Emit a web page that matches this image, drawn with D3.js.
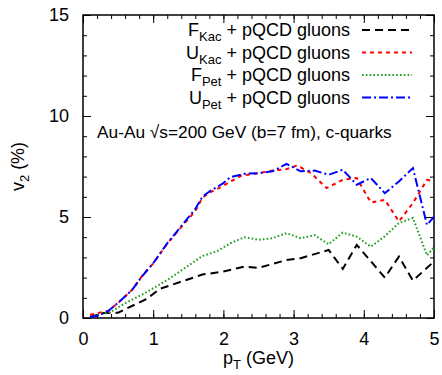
<!DOCTYPE html>
<html>
<head>
<meta charset="utf-8">
<script src="https://cdn.jsdelivr.net/npm/d3@7"></script>
<style>
    body { margin: 0; background: #fff; }
    text { font-family: "Liberation Sans", Arial, sans-serif; fill: #000; }
</style>
</head>
<body>
<script>
//wrap everything in a self-executing anonymous function
(function(){

    //pseudo-global data arrays
    var ptFKac = [0.1, 0.3, 0.5, 0.6, 0.9, 1.1, 1.4, 1.7, 2.0, 2.3, 2.5, 2.9, 3.1, 3.5, 3.7, 3.9, 4.3, 4.5, 4.7, 5.0];
    var v2FKac = [0.05, 0.25, 0.26, 0.43, 0.93, 1.45, 1.8, 2.15, 2.3, 2.55, 2.48, 2.87, 2.96, 3.37, 2.43, 3.62, 2.0, 3.04, 1.85, 2.8];

    var ptUKac = [0.1, 0.26, 0.36, 0.5, 0.7, 0.85, 1.0, 1.2, 1.4, 1.6, 1.7, 1.8, 2.0, 2.1, 2.25, 2.5, 2.7, 2.9, 3.05, 3.25, 3.47, 3.7, 3.9, 4.1, 4.3, 4.5, 4.7, 4.9, 5.0];
    var v2UKac = [0.15, 0.28, 0.35, 0.75, 1.4, 2.12, 2.7, 3.68, 4.5, 5.3, 5.95, 6.2, 6.55, 6.75, 7.04, 7.17, 7.3, 7.37, 7.55, 7.17, 6.43, 6.84, 6.93, 5.72, 5.85, 4.78, 5.69, 6.84, 6.76];

    var ptFPet = [0.1, 0.4, 0.6, 0.9, 1.2, 1.4, 1.7, 1.9, 2.1, 2.3, 2.5, 2.7, 2.9, 3.1, 3.3, 3.5, 3.7, 3.9, 4.1, 4.3, 4.5, 4.7, 4.9, 5.0];
    var v2FPet = [0.05, 0.31, 0.73, 1.27, 1.88, 2.35, 3.07, 3.29, 3.7, 4.0, 3.87, 3.95, 4.2, 3.95, 4.1, 3.65, 4.23, 4.03, 3.53, 4.05, 4.7, 4.95, 3.1, 3.5];

    var ptUPet = [0.1, 0.2, 0.36, 0.5, 0.7, 0.85, 1.0, 1.2, 1.4, 1.6, 1.7, 1.8, 2.0, 2.1, 2.3, 2.5, 2.7, 2.9, 3.1, 3.3, 3.5, 3.7, 3.9, 4.1, 4.3, 4.5, 4.7, 4.9, 5.0];
    var v2UPet = [0.05, 0.1, 0.35, 0.75, 1.39, 2.1, 2.71, 3.7, 4.55, 5.4, 6.0, 6.26, 6.68, 6.97, 7.14, 7.17, 7.26, 7.63, 7.26, 7.3, 7.09, 7.34, 6.6, 6.93, 6.18, 6.76, 7.42, 4.61, 5.02];

    var seriesNames = ["F", "U", "F", "U"];
    var seriesSubs = ["Kac", "Kac", "Pet", "Pet"];
    var xTicks = [0, 1, 2, 3, 4, 5];
    var yTicks = [0, 5, 10, 15];

    //begin script when window loads
    window.onload = setChart();

    function setChart(){
        //frame dimensions
        var width = 442,
            height = 375,
            left = 83,
            right = 434,
            top = 15,
            bottom = 318;

        var svg = d3.select("body")
            .append("svg")
            .attr("width", width)
            .attr("height", height);

        //scales
        var x = d3.scaleLinear().domain([0, 5]).range([left, right]);
        var y = d3.scaleLinear().domain([0, 15]).range([bottom, top]);

        //series styles (gnuplot-like)
        var series = [
            {pt: ptFKac, v2: v2FKac, color: "#000000", dash: "8,5"},
            {pt: ptUKac, v2: v2UKac, color: "#ff0000", dash: "4,4"},
            {pt: ptFPet, v2: v2FPet, color: "#1e9e1e", dash: "1.6,2.2"},
            {pt: ptUPet, v2: v2UPet, color: "#0000ff", dash: "9,3,2,3"}
        ];

        //minor and major ticks, inward on all four sides
        var xMinor = d3.range(0, 5.001, 0.2),
            yMinor = d3.range(0, 15.001, 1);

        var axisG = svg.append("g")
            .attr("class", "axis");

        //x axis ticks bottom and top
        axisG.append("g")
            .attr("transform", "translate(0," + bottom + ")")
            .call(d3.axisBottom(x).tickValues(xMinor).tickSize(-4).tickFormat(""));
        axisG.append("g")
            .attr("transform", "translate(0," + top + ")")
            .call(d3.axisTop(x).tickValues(xMinor).tickSize(-4).tickFormat(""));
        axisG.append("g")
            .attr("transform", "translate(0," + bottom + ")")
            .call(d3.axisBottom(x).tickValues(xTicks).tickSize(-8).tickPadding(14).tickFormat(d3.format("d")));
        axisG.append("g")
            .attr("transform", "translate(0," + top + ")")
            .call(d3.axisTop(x).tickValues(xTicks).tickSize(-8).tickFormat(""));

        //y axis ticks left and right
        axisG.append("g")
            .attr("transform", "translate(" + left + ",0)")
            .call(d3.axisLeft(y).tickValues(yMinor).tickSize(-4).tickFormat(""));
        axisG.append("g")
            .attr("transform", "translate(" + right + ",0)")
            .call(d3.axisRight(y).tickValues(yMinor).tickSize(-4).tickFormat(""));
        axisG.append("g")
            .attr("transform", "translate(" + left + ",0)")
            .call(d3.axisLeft(y).tickValues(yTicks).tickSize(-8).tickPadding(14).tickFormat(d3.format("d")));
        axisG.append("g")
            .attr("transform", "translate(" + right + ",0)")
            .call(d3.axisRight(y).tickValues(yTicks).tickSize(-8).tickFormat(""));

        axisG.selectAll(".domain").remove();
        axisG.selectAll("line").attr("stroke", "#000").attr("stroke-width", 1);
        axisG.selectAll("text")
            .style("font-family", "'Liberation Sans', Arial, sans-serif")
            .style("font-size", "18px")
            .attr("fill", "#000");

        //frame
        svg.append("rect")
            .attr("x", left)
            .attr("y", top)
            .attr("width", right - left)
            .attr("height", bottom - top)
            .attr("fill", "none")
            .attr("stroke", "#000")
            .attr("stroke-width", 1.5);

        //curves
        var line = d3.line()
            .x(function(d){ return x(d[0]); })
            .y(function(d){ return y(d[1]); });

        svg.append("defs").append("clipPath")
            .attr("id", "plotClip")
            .append("rect")
            .attr("x", left)
            .attr("y", top)
            .attr("width", right - left)
            .attr("height", bottom - top);

        series.forEach(function(s){
            var pts = s.pt.map(function(p, i){ return [p, s.v2[i]]; });
            svg.append("path")
                .datum(pts)
                .attr("clip-path", "url(#plotClip)")
                .attr("d", line)
                .attr("fill", "none")
                .attr("stroke", s.color)
                .attr("stroke-width", 2)
                .attr("stroke-dasharray", s.dash);
        });

        //legend
        var legend = svg.append("g").attr("class", "legend");
        series.forEach(function(s, i){
            var ly = 30 + i * 22.5;
            var t = legend.append("text")
                .attr("x", 350)
                .attr("y", ly + 6)
                .attr("text-anchor", "end")
                .style("font-size", "18px");
            t.append("tspan").text(seriesNames[i]);
            t.append("tspan")
                .attr("dy", 5)
                .style("font-size", "13px")
                .text(seriesSubs[i]);
            t.append("tspan")
                .attr("dy", -5)
                .text(" + pQCD gluons");
            legend.append("line")
                .attr("x1", 362)
                .attr("x2", 412)
                .attr("y1", ly)
                .attr("y2", ly)
                .attr("stroke", s.color)
                .attr("stroke-width", 2)
                .attr("stroke-dasharray", s.dash);
        });

        //annotation
        svg.append("text")
            .attr("x", 97)
            .attr("y", 138)
            .style("font-size", "17.3px")
            .text("Au-Au \u221As=200 GeV (b=7 fm), c-quarks");

        //axis titles
        var yTitle = svg.append("text")
            .attr("transform", "translate(24," + ((top + bottom) / 2) + ") rotate(-90)")
            .attr("text-anchor", "middle")
            .style("font-size", "18px");
        yTitle.append("tspan").text("v");
        yTitle.append("tspan").attr("dy", 5).style("font-size", "13px").text("2");
        yTitle.append("tspan").attr("dy", -5).text(" (%)");

        var xTitle = svg.append("text")
            .attr("x", (left + right) / 2)
            .attr("y", 364)
            .attr("text-anchor", "middle")
            .style("font-size", "18px");
        xTitle.append("tspan").text("p");
        xTitle.append("tspan").attr("dy", 5).style("font-size", "13px").text("T");
        xTitle.append("tspan").attr("dy", -5).text(" (GeV)");
    };

})();
</script>
</body>
</html>
